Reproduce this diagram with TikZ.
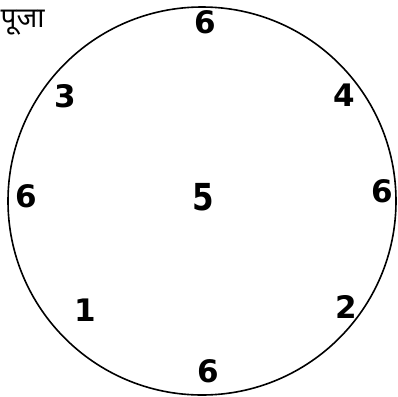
\documentclass[tikz,border=0pt]{standalone}
\usepackage{fontspec}
\setmainfont{DejaVu Sans}
\newfontfamily\devfont[Script=Devanagari]{Noto Sans}
\begin{document}
\begin{tikzpicture}[x=1pt,y=-1pt,
  num/.style={inner sep=0pt, font=\fontsize{31}{31}\selectfont\bfseries}]
\useasboundingbox (0,0) rectangle (397,397);
\draw[line width=1.6pt] (202,201) circle[radius=194];
\node[anchor=west, inner sep=0pt, font=\devfont\fontsize{28}{28}\selectfont] (title) at (0.5,23) {पूजा};
\node[num] (ntop) at (205.5,22) {6};
\node[num] (n3) at (65,96.5) {3};
\node[num] (n4) at (344.5,95.5) {4};
\node[num] (nleft) at (26,196.5) {6};
\node[num] (n5) at (203.5,197.5) {\scalebox{1}[1.2]{5}};
\node[num] (nright) at (382.5,191.5) {6};
\node[num] (n1) at (85,310) {1};
\node[num] (n2) at (346,306.5) {2};
\node[num] (nbot) at (208,371.5) {6};
\end{tikzpicture}
\end{document}
